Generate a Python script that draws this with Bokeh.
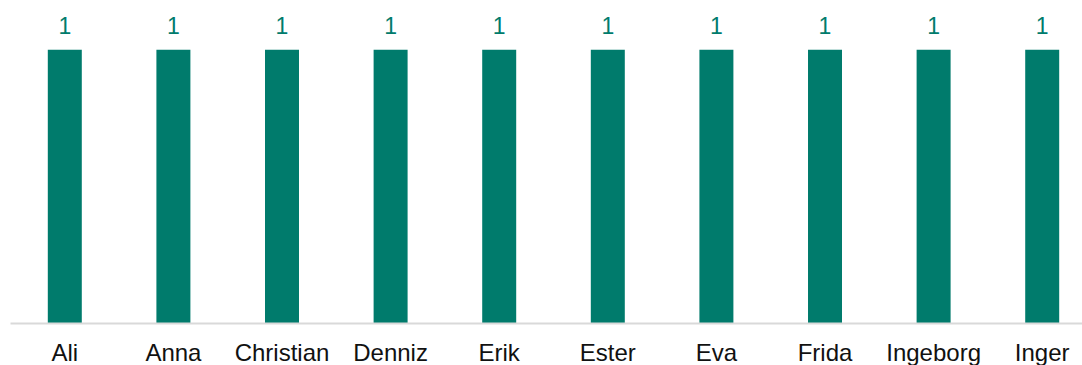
from bokeh.plotting import figure
from bokeh.models import ColumnDataSource, Range1d, FixedTicker
from bokeh.core.properties import value
from bokeh.embed import file_html
from bokeh.resources import INLINE

names = ["Ali", "Anna", "Christian", "Denniz", "Erik", "Ester", "Eva", "Frida", "Ingeborg", "Inger"]
counts = [1, 1, 1, 1, 1, 1, 1, 1, 1, 1]

TEAL = "#007B6C"
FONT = "Liberation Sans"

xs = list(range(len(names)))
src = ColumnDataSource(dict(x=xs, y=counts, lab=[str(c) for c in counts]))

p = figure(frame_width=1072, frame_height=323, output_backend="svg", toolbar_location=None,
           x_range=Range1d(-0.5, 9.371), y_range=Range1d(0, 1.180),
           min_border_left=10, min_border_right=0, min_border_top=0, min_border_bottom=0)

p.vbar(x="x", top="y", width=0.313, source=src, color=TEAL, line_color=None)
p.text(x="x", y="y", text="lab", source=src, y_offset=-24,
       text_align="center", text_baseline="alphabetic",
       text_font=value(FONT), text_font_size="23px", text_color=TEAL)

p.yaxis.visible = False
p.xgrid.visible = False
p.ygrid.visible = False
p.outline_line_color = None

ax = p.xaxis[0]
ax.ticker = FixedTicker(ticks=xs)
ax.major_label_overrides = {i: n for i, n in zip(xs, names)}
ax.major_tick_line_color = None
ax.minor_tick_line_color = None
ax.axis_line_color = "#d9d9d9"
ax.axis_line_width = 2
ax.major_label_text_font = FONT
ax.major_label_text_font_size = "24px"
ax.major_label_text_color = "#111111"
ax.major_label_standoff = 9

open("out.html", "w").write(file_html(p, INLINE))
